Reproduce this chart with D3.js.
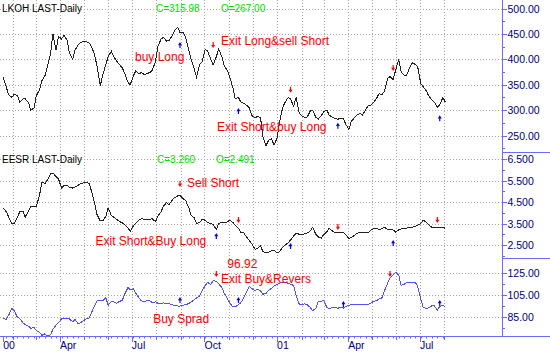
<!DOCTYPE html>
<html>
<head>
<meta charset="utf-8">
<script src="https://cdn.jsdelivr.net/npm/d3@7"></script>
<style>
  body { margin: 0; background: #fff; }
  text { font-family: "Liberation Sans", Arial, sans-serif; }
</style>
</head>
<body>
<div id="graphicContainer"></div>
<script>
// twice-weekly closes, Thu 20 Jan 2000 .. Thu 2 Aug 2001
var startDate = "2000-01-20"

var lkoh = [364,345,330,325,331,329,316,322,322,315,
  300,304,328,340,358,368,385,410,450,418,
  445,440,447,438,412,400,418,428,433,435,
  435,432,425,408,385,348,368,390,405,416,
  406,396,390,383,372,355,350,368,377,371,
  374,370,372,374,379,396,425,440,443,436,
  437,446,456,463,453,452,444,420,400,381,
  365,390,395,420,416,400,389,405,420,405,
  387,378,365,344,322,325,316,313,310,304,
  290,284,288,285,248,230,240,244,231,245,
  275,305,315,325,322,307,325,295,289,286,
  286,298,300,286,282,289,297,300,290,286,
  284,282,284,283,272,262,278,285,290,294,
  290,300,308,310,315,323,332,331,337,362,
  366,360,378,400,376,368,368,384,393,390,
  386,352,346,338,328,320,316,306,310,325,
  315.98]

var eesr = [4.22,4.05,3.80,3.48,3.50,3.78,4.04,4.08,3.80,4.08,
  4.30,4.28,4.30,4.80,5.42,5.36,5.52,5.80,5.85,5.68,
  5.58,5.15,5.28,5.28,5.18,5.15,5.20,5.28,5.35,5.40,
  5.42,5.35,5.00,4.40,3.90,3.62,3.62,3.82,4.22,3.88,
  3.80,3.68,3.60,3.53,3.45,3.30,3.12,3.40,3.52,3.66,
  3.72,3.70,3.66,3.70,3.72,3.58,3.85,4.05,4.30,4.48,
  4.38,4.58,4.70,4.78,4.80,4.65,4.58,4.25,3.90,3.76,
  3.50,3.55,3.70,3.65,3.55,3.50,3.44,3.22,3.50,3.56,
  3.52,3.58,3.65,3.55,3.42,3.28,3.10,3.06,2.88,2.70,
  2.55,2.30,2.35,2.45,2.20,2.14,2.16,2.24,2.25,2.15,
  2.18,2.40,2.50,2.60,2.73,2.92,3.05,3.00,2.99,3.02,
  3.05,3.15,3.32,3.00,2.88,2.82,2.98,3.12,3.28,3.15,
  3.08,3.06,3.08,3.10,2.98,2.80,2.86,2.94,3.04,3.08,
  3.10,3.08,3.06,3.20,3.25,3.29,3.20,3.28,3.32,3.22,
  3.20,3.20,3.10,3.20,3.25,3.29,3.29,3.30,3.33,3.36,
  3.42,3.50,3.65,3.57,3.43,3.32,3.32,3.30,3.30,3.34,
  3.26]

var spread = [84,83,87,93,91,85,84,80,78.5,77,
  75,76,73,71.5,68.6,70,68,69,74,78,
  80,83.5,83.5,83.5,83.5,81,83,79,80,82,
  83.5,84.5,89.5,95.5,100,100,100,103,96,99.5,
  99,97.8,99.3,100.6,106,112,110,110.8,107,102.5,
  100,99.2,100,100,98.2,99,97.8,97.7,98,97.8,
  97.4,96.5,95.8,95.3,95.2,95.8,96.6,97.4,99,100.8,
  102.7,104.5,109,114,116.6,115,118.4,117.5,115.5,112,
  107,102,98.2,94.5,94.5,96.5,98.3,103,107.8,113,
  111,109.4,110.5,109,106,106.8,109.3,111.5,113.3,115,
  116,117,117,116,115,114,105,97,96.5,97.2,
  96.5,94,91,93,99.5,99.5,100.6,94,93,93.7,
  94,93.2,94.4,93.3,95,96,96.3,97,97,96.2,
  96.8,96.8,96.5,98,99.5,100.3,101.5,102.8,109,116,
  120.8,123.5,126,123.5,114,115,116.7,117,117,117,
  113,101.5,94,93,93.8,95.5,95.5,91.5,95,95.5,
  95]

var xLabelDates = ["2000-01-20","2000-04-01","2000-07-01","2000-10-01","2001-01-01","2001-04-01","2001-07-01"]
var xLabels = ["00","Apr","Jul","Oct","01","Apr","Jul"]

var lkohTicks = [250,300,350,400,450,500]
var lkohMinor = [225,275,325,375,425,475]
var eesrTicks = [2.5,3.5,4.5,5.5,6.5]
var eesrMinor = [2,3,4,5,6]
var spreadTicks = [85,105,125]
var spreadMinor = [75,95,115]

// signal arrows: index into dates, value where the tip sits
var lkohSignals = [
  {i: 64, at: 434, dir: "up"}, {i: 76, at: 422, dir: "down"}, {i: 85, at: 304, dir: "up"},
  {i: 104, at: 334, dir: "down"}, {i: 121, at: 275, dir: "up"}, {i: 141, at: 377, dir: "down"},
  {i: 158, at: 290, dir: "up"}]
var eesrSignals = [
  {i: 64, at: 5.20, dir: "down"}, {i: 77, at: 3.06, dir: "up"}, {i: 85, at: 3.52, dir: "down"},
  {i: 104, at: 2.59, dir: "up"}, {i: 121, at: 3.2, dir: "down"}, {i: 141, at: 2.73, dir: "up"},
  {i: 157, at: 3.52, dir: "down"}]
var spreadSignals = [
  {i: 64, at: 103.5, dir: "up"}, {i: 77, at: 121.6, dir: "down"}, {i: 85, at: 103.5, dir: "up"},
  {i: 123, at: 99.8, dir: "up"}, {i: 140, at: 121.6, dir: "down"}, {i: 158, at: 100.7, dir: "up"}]

var lkohNotes = [
  {text: "buy Long", date: "2000-07-05", v: 397},
  {text: "Exit Long&sell Short", date: "2000-10-22", v: 428},
  {text: "Exit Short&buy Long", date: "2000-10-17", v: 259}]
var eesrNotes = [
  {text: "Sell Short", date: "2000-09-09", v: 5.21},
  {text: "Exit Short&Buy Long", date: "2000-05-16", v: 2.5}]
var spreadNotes = [
  {text: "96.92", date: "2000-10-30", v: 129.8},
  {text: "Exit Buy&Revers", date: "2000-10-22", v: 116.2},
  {text: "Buy Sprad", date: "2000-07-28", v: 79.8}]

var width = 550
var height = 352
var plotRight = 502.5
var axisY = 336
var axisColor = "#6a6aff"
var labelColor = "#000080"

var parseDate = d3.timeParse("%Y-%m-%d")
var start = parseDate(startDate)
var dates = lkoh.map(function (d, i) {
  return d3.timeDay.offset(start, Math.floor(i / 2) * 7 + (i % 2) * 4)
})

var x = d3.scaleTime()
  .domain([parseDate("2000-04-01"), parseDate("2001-07-01")])
  .range([60, 420])

var panels = [
  {values: lkoh, y: d3.scaleLinear().domain([250, 500]).range([135.5, 8.5]),
    ticks: lkohTicks, minor: lkohMinor, format: d3.format(".2f"), color: "#222",
    signals: lkohSignals, notes: lkohNotes, top: 0, bottom: 151.5,
    title: "LKOH LAST-Daily", close: "C=315.98", open: "O=267.00", titleY: 12, closeX: 156, openX: 221},
  {values: eesr, y: d3.scaleLinear().domain([2.5, 6.5]).range([245, 159]),
    ticks: eesrTicks, minor: eesrMinor, format: d3.format(".3f"), color: "#222",
    signals: eesrSignals, notes: eesrNotes, top: 151.5, bottom: 258,
    title: "EESR LAST-Daily", close: "C=3.260", open: "O=2.491", titleY: 163, closeX: 157, openX: 216},
  {values: spread, y: d3.scaleLinear().domain([85, 125]).range([317.3, 273.3]),
    ticks: spreadTicks, minor: spreadMinor, format: d3.format(".2f"), color: "#5050ff",
    signals: spreadSignals, notes: spreadNotes, top: 258, bottom: axisY}
]

var svg = d3.select("#graphicContainer").append("svg")
  .attr("width", width)
  .attr("height", height)

svg.append("rect").attr("width", width).attr("height", height).attr("fill", "#fff")

var grid = svg.append("g").attr("class", "grid")

// monthly vertical grid
var months = d3.timeMonth.range(parseDate("2000-02-01"), parseDate("2001-08-02"))
grid.selectAll(".vgrid")
  .data(months)
  .enter().append("line")
  .attr("x1", function (d) { return Math.round(x(d)) + 0.5 })
  .attr("x2", function (d) { return Math.round(x(d)) + 0.5 })
  .attr("y1", 0)
  .attr("y2", axisY)
  .attr("stroke", "#a8a8a8")
  .attr("stroke-dasharray", "1,2")

panels.forEach(function (p, n) {
  grid.selectAll(".hgrid" + n)
    .data(p.ticks)
    .enter().append("line")
    .attr("x1", 0)
    .attr("x2", plotRight)
    .attr("y1", function (d) { return Math.round(p.y(d)) + 0.5 })
    .attr("y2", function (d) { return Math.round(p.y(d)) + 0.5 })
    .attr("stroke", "#a8a8a8")
    .attr("stroke-dasharray", "1,2")
})

// clip for each panel
var defs = svg.append("defs")
panels.forEach(function (p, n) {
  defs.append("clipPath").attr("id", "clip" + n)
    .append("rect")
    .attr("x", 0).attr("y", p.top)
    .attr("width", plotRight).attr("height", p.bottom - p.top)
})

var arrowUp = "M0,0 L-2,3.2 L-0.6,3.2 L-0.6,6 L0.6,6 L0.6,3.2 L2,3.2 Z"
var arrowDown = "M0,0 L-2,-3.2 L-0.6,-3.2 L-0.6,-6 L0.6,-6 L0.6,-3.2 L2,-3.2 Z"

panels.forEach(function (p, n) {
  var line = d3.line()
    .x(function (d, i) { return x(dates[i]) })
    .y(function (d) { return p.y(d) })

  svg.append("path")
    .datum(p.values)
    .attr("clip-path", "url(#clip" + n + ")")
    .attr("d", line)
    .attr("fill", "none")
    .attr("stroke", p.color)
    .attr("stroke-width", 1)
    .style("shape-rendering", "crispEdges")

  svg.selectAll(".sig" + n)
    .data(p.signals)
    .enter().append("path")
    .attr("transform", function (d) {
      return "translate(" + x(dates[d.i]) + "," + p.y(d.at) + ")"
    })
    .attr("d", function (d) { return d.dir == "up" ? arrowUp : arrowDown })
    .attr("fill", function (d) { return d.dir == "up" ? "#0000ff" : "#ff0000" })

  svg.selectAll(".note" + n)
    .data(p.notes)
    .enter().append("text")
    .attr("x", function (d) { return x(parseDate(d.date)) })
    .attr("y", function (d) { return p.y(d.v) })
    .attr("fill", "#ff0000")
    .style("font-size", "12px")
    .text(function (d) { return d.text })

  if (p.title) {
    svg.append("text").attr("x", 2).attr("y", p.titleY)
      .attr("fill", "#000").style("font-size", "10px").text(p.title)
    svg.append("text").attr("x", p.closeX).attr("y", p.titleY)
      .attr("fill", "#00dd00").style("font-size", "10px").text(p.close)
    svg.append("text").attr("x", p.openX).attr("y", p.titleY)
      .attr("fill", "#00dd00").style("font-size", "10px").text(p.open)
  }

  // right axis
  var ax = svg.append("g").attr("class", "yaxis")
  ax.selectAll(".tick")
    .data(p.ticks)
    .enter().append("line")
    .attr("x1", plotRight).attr("x2", plotRight + 4.5)
    .attr("y1", function (d) { return Math.round(p.y(d)) + 0.5 })
    .attr("y2", function (d) { return Math.round(p.y(d)) + 0.5 })
    .attr("stroke", axisColor)
  ax.selectAll(".minor")
    .data(p.minor)
    .enter().append("line")
    .attr("x1", plotRight).attr("x2", plotRight + 2.5)
    .attr("y1", function (d) { return Math.round(p.y(d)) + 0.5 })
    .attr("y2", function (d) { return Math.round(p.y(d)) + 0.5 })
    .attr("stroke", axisColor)
  ax.selectAll("text")
    .data(p.ticks)
    .enter().append("text")
    .attr("x", plotRight + 5)
    .attr("y", function (d) { return p.y(d) + 4 })
    .attr("fill", labelColor)
    .style("font-size", "10.5px")
    .text(function (d) { return p.format(d) })

  if (n < panels.length - 1) {
    svg.append("line")
      .attr("x1", plotRight).attr("x2", width)
      .attr("y1", Math.round(p.bottom) + 0.5).attr("y2", Math.round(p.bottom) + 0.5)
      .attr("stroke", axisColor)
  }
})

// axis lines
svg.append("line")
  .attr("x1", plotRight).attr("x2", plotRight)
  .attr("y1", 0).attr("y2", axisY)
  .attr("stroke", axisColor)
svg.append("line")
  .attr("x1", 0).attr("x2", width)
  .attr("y1", axisY + 0.5).attr("y2", axisY + 0.5)
  .attr("stroke", axisColor)

// bottom time axis
var lastDate = dates[dates.length - 1]
var weeks = d3.timeMonday.range(dates[0], d3.timeDay.offset(lastDate, 1))
var xa = svg.append("g").attr("class", "xaxis")
xa.selectAll(".wk")
  .data(weeks)
  .enter().append("line")
  .attr("x1", function (d) { return Math.round(x(d)) + 0.5 })
  .attr("x2", function (d) { return Math.round(x(d)) + 0.5 })
  .attr("y1", axisY).attr("y2", axisY + 2.5)
  .attr("stroke", axisColor)
xa.selectAll(".mo")
  .data(months)
  .enter().append("line")
  .attr("x1", function (d) { return Math.round(x(d)) + 0.5 })
  .attr("x2", function (d) { return Math.round(x(d)) + 0.5 })
  .attr("y1", axisY).attr("y2", axisY + 4)
  .attr("stroke", axisColor)
xa.selectAll(".qt")
  .data(xLabelDates)
  .enter().append("line")
  .attr("x1", function (d) { return Math.round(x(parseDate(d))) + 0.5 })
  .attr("x2", function (d) { return Math.round(x(parseDate(d))) + 0.5 })
  .attr("y1", axisY).attr("y2", axisY + 6)
  .attr("stroke", axisColor)
xa.selectAll("text")
  .data(xLabelDates)
  .enter().append("text")
  .attr("x", function (d) { return x(parseDate(d)) })
  .attr("y", 348.5)
  .attr("fill", labelColor)
  .style("font-size", "10.5px")
  .text(function (d, i) { return xLabels[i] })
</script>
</body>
</html>
